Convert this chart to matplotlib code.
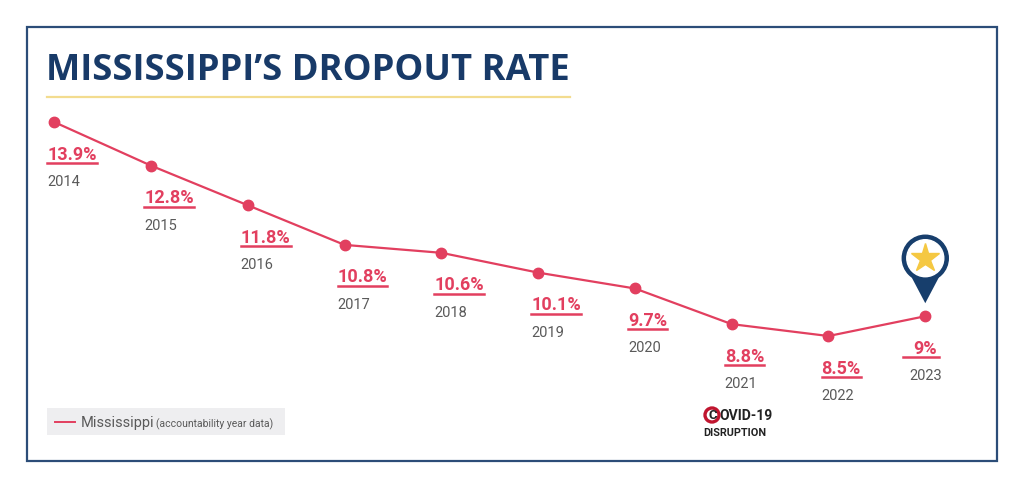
import matplotlib.pyplot as plt
from matplotlib.patches import Rectangle, Circle, Polygon
from matplotlib.lines import Line2D
import numpy as np

years = [2014, 2015, 2016, 2017, 2018, 2019, 2020, 2021, 2022, 2023]
rates = [13.9, 12.8, 11.8, 10.8, 10.6, 10.1, 9.7, 8.8, 8.5, 9.0]
rate_labels = ['13.9%', '12.8%', '11.8%', '10.8%', '10.6%', '10.1%', '9.7%', '8.8%', '8.5%', '9%']

RED = '#e23f5f'
NAVY = '#173e6c'
GRAY = '#5a5a5a'

W, H = 1024, 487
fig = plt.figure(figsize=(W / 100, H / 100), dpi=100)

# overlay in pixel coordinates (y down) for decoration
deco = fig.add_axes([0, 0, 1, 1])
deco.set_xlim(0, W)
deco.set_ylim(H, 0)
deco.axis('off')

# data axes
ax = fig.add_axes([0, 0, 1, 1])
ax.set_xlim(2013.44, 2024.02)
ax.set_ylim(4.69, 16.98)
ax.axis('off')
ax.patch.set_alpha(0)

# frame and title
deco.add_patch(Rectangle((27, 27), 970, 434, fill=False, ec='#2c4d78', lw=1.6))
deco.text(46, 71, 'MISSISSIPPI\u2019S DROPOUT RATE', fontsize=26.2, fontweight='bold',
          family=['Open Sans', 'DejaVu Sans'], color='#183a68', va='center', ha='left')
deco.plot([47, 570], [97, 97], color='#f3dc8f', lw=1.6)

ax.plot(years, rates, color=RED, lw=1.6, marker='o', ms=7.5, zorder=3)

texts = []
for i, (yr, r, lab) in enumerate(zip(years, rates, rate_labels)):
    last = i == len(years) - 1
    ha = 'center' if last else 'left'
    dx = 0 if last else -5
    t = ax.annotate(lab, (yr, r), xytext=(dx, -27), textcoords='offset points',
                    ha=ha, va='baseline', fontsize=13, fontweight='bold',
                    family='Roboto', color=RED)
    ax.annotate(str(yr), (yr, r), xytext=(dx, -46), textcoords='offset points',
                ha=ha, va='baseline', fontsize=10.5, family='Roboto', color=GRAY)
    texts.append(t)

# underline the value labels
fig.canvas.draw()
renderer = fig.canvas.get_renderer()
for t in texts:
    bb = t.get_window_extent(renderer)
    y = bb.y0 + 0.5
    x0, x1 = bb.x0, bb.x1
    if t.get_text() == '9%':
        x0, x1 = x0 - 10, x1 + 2
    fig.add_artist(Line2D([x0 / W, x1 / W], [y / H, y / H], color=RED, lw=1.8,
                          transform=fig.transFigure))

# pin marker above the last point
px, py = ax.transData.transform((years[-1], rates[-1]))
cx, cy = px, H - py - 58
r_out = 23
tip_y = H - py - 13
ang = np.deg2rad(38)
deco.add_patch(Polygon([(cx - r_out * np.sin(ang), cy + r_out * np.cos(ang)),
                        (cx, tip_y),
                        (cx + r_out * np.sin(ang), cy + r_out * np.cos(ang))],
                       closed=True, color=NAVY, lw=0, zorder=4))
deco.add_patch(Circle((cx, cy), r_out, color=NAVY, zorder=4))
deco.add_patch(Circle((cx, cy), r_out - 4.5, color='white', zorder=5))
deco.plot(cx, cy, marker='*', ms=21, color='#f5c842', mec='#f5c842', zorder=6)

# legend
deco.add_patch(Rectangle((47, 408), 238, 27, color='#eeeef0', lw=0))
deco.plot([55, 75], [422, 422], color=RED, lw=1.4)
deco.text(81, 423, 'Mississippi', fontsize=10.5, family='Roboto', color=GRAY, va='center')
deco.text(156, 424, '(accountability year data)', fontsize=7.5, family='Roboto',
          color=GRAY, va='center')

# covid note
deco.add_patch(Circle((712, 415), 7, fc='white', ec='#c0152f', lw=2.4, zorder=4))
deco.text(712.5, 415.5, 'C', fontsize=9.5, fontweight='bold', family='Roboto',
          color='#222222', ha='center', va='center', zorder=5)
deco.text(719.5, 415.5, 'OVID-19', fontsize=10, fontweight='bold', family='Roboto',
          color='#222222', ha='left', va='center')
deco.text(703, 433, 'DISRUPTION', fontsize=7.8, fontweight='bold', family='Roboto',
          color='#222222', ha='left', va='center')

fig.savefig('out.png', dpi=100, facecolor='white')
